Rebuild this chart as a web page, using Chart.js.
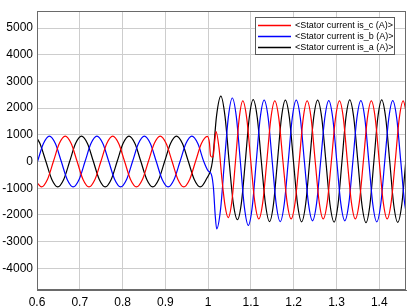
<!DOCTYPE html>
<html><head><meta charset="utf-8">
<script src="https://cdn.jsdelivr.net/npm/chart.js@4.4.1/dist/chart.umd.min.js"></script>
<style>html,body{margin:0;padding:0;background:#fff;}#wrap{width:408px;height:308px;}</style>
</head><body><div id="wrap"><canvas id="c" width="408" height="308"></canvas></div>
<script>
const xTicks=[0.6,0.7,0.8,0.9,1,1.1,1.2,1.3,1.4];
const yTicks=[-4000,-3000,-2000,-1000,0,1000,2000,3000,4000,5000];
const seriesLabels=['<Stator current is_c (A)>','<Stator current is_b (A)>','<Stator current is_a (A)>'];

// is_a (black)
const tA=[0.600,0.6069,0.6208,0.6347,0.6485,0.6624,0.6763,0.6901,0.7040,0.7179,0.7318,0.7456,0.7595,0.7734,0.7873,0.8011,0.8150,0.8289,0.8428,0.8566,0.8705,0.8844,0.8983,0.9121,0.9260,0.9399,0.9538,0.9676,0.9815,0.9954,
1.0100,1.0198,1.0297,1.0394,1.0491,1.0588,1.0685,1.0777,1.0869,1.0961,1.1053,1.1149,1.1244,1.1340,1.1435,1.1528,1.1620,1.1713,1.1805,1.1900,1.1995,1.2090,1.2185,1.2279,1.2373,1.2466,1.2560,1.2656,1.2753,1.2849,1.2945,1.3036,1.3128,1.3219,1.3310,1.3405,1.3500,1.3595,1.3690,1.3782,1.3874,1.3965,1.4057,1.4151,1.4245,1.4338,1.4432,1.4526,1.4620,1.4714];
const iA=[876,672,0,-672,-950,-672,0,672,950,672,0,-672,-950,-672,0,672,950,672,0,-672,-950,-672,0,672,950,672,0,-672,-950,-672,
0,1730,2450,1700,0,-1560,-2180,-1560,0,1640,2320,1640,0,-1590,-2250,-1590,0,1630,2300,1630,0,-1600,-2260,-1600,0,1630,2300,1630,0,-1610,-2270,-1610,0,1630,2310,1630,0,-1620,-2290,-1620,0,1630,2310,1630,0,-1620,-2280,-1620,0,1630];

// is_b (blue)
const tB=[0.600,0.6012,0.6151,0.6290,0.6429,0.6568,0.6706,0.6845,0.6984,0.7123,0.7261,0.7400,0.7539,0.7678,0.7816,0.7955,0.8094,0.8233,0.8371,0.8510,0.8649,0.8788,0.8926,0.9065,0.9204,0.9343,0.9481,0.9620,0.9759,0.9898,
1.0000,1.0075,1.0125,1.0165,1.0200,1.0291,1.0382,1.0474,1.0565,1.0659,1.0753,1.0846,1.0940,1.1032,1.1125,1.1217,1.1310,1.1404,1.1498,1.1591,1.1685,1.1779,1.1873,1.1966,1.2060,1.2155,1.2250,1.2345,1.2440,1.2535,1.2630,1.2725,1.2820,1.2914,1.3008,1.3101,1.3195,1.3289,1.3383,1.3476,1.3570,1.3663,1.3756,1.3849,1.3942,1.4035,1.4128,1.4222,1.4315,1.4409,1.4503,1.4596,1.4690];
const iB=[-60,0,672,950,672,0,-672,-950,-672,0,672,950,672,0,-672,-950,-672,0,672,950,672,0,-672,-950,-672,0,672,950,672,0,
-350,-480,-1000,-2000,-2520,-1780,0,1680,2380,1680,0,-1690,-2390,-1690,0,1630,2300,1630,0,-1590,-2250,-1590,0,1630,2300,1630,0,-1570,-2220,-1570,0,1610,2280,1610,0,-1570,-2220,-1570,0,1610,2280,1610,0,-1600,-2260,-1600,0,1610,2280,1610,0,-1600,-2260];

// is_c (red)
const tC=[0.600,0.6105,0.6244,0.6383,0.6521,0.6660,0.6799,0.6938,0.7076,0.7215,0.7354,0.7493,0.7631,0.7770,0.7909,0.8048,0.8186,0.8325,0.8464,0.8603,0.8741,0.8880,0.9019,0.9158,0.9294,0.9430,0.9568,0.9705,0.9843,0.9980,
1.0030,1.0056,1.0085,1.0117,1.0150,1.0185,1.0255,1.0325,1.0395,1.0468,1.0554,1.0639,1.0725,1.0810,1.0904,1.0998,1.1091,1.1185,1.1278,1.1371,1.1465,1.1558,1.1654,1.1749,1.1845,1.1940,1.2034,1.2128,1.2221,1.2315,1.2409,1.2503,1.2596,1.2690,1.2785,1.2880,1.2975,1.3070,1.3163,1.3255,1.3348,1.3440,1.3534,1.3628,1.3721,1.3815,1.3908,1.4000,1.4093,1.4185,1.4279,1.4373,1.4466,1.4560,1.4654];
const iC=[-790,-950,-672,0,672,950,672,0,-672,-950,-672,0,672,950,672,0,-672,-950,-672,0,672,950,672,0,-672,-950,-672,0,672,940,
700,220,170,180,700,1120,500,-700,-1650,-2100,-1500,0,1600,2270,1600,0,-1520,-2150,-1520,0,1600,2270,1600,0,-1520,-2150,-1520,0,1600,2270,1600,0,-1520,-2150,-1520,0,1600,2270,1600,0,-1520,-2150,-1520,0,1600,2270,1600,0,-1520,-2150,-1520,0,1600,2270,1600];

const FONT='"Liberation Sans", Arial, Helvetica, sans-serif';
function pts(t,v){return t.map((x,i)=>({x:x,y:v[i]}));}

const framePlugin={id:'frame',afterDatasetsDraw(chart){
  const {ctx,chartArea:a}=chart;ctx.save();
  ctx.strokeStyle='#6a6a6a';ctx.lineWidth=1;
  ctx.strokeRect(Math.round(a.left)+0.5,Math.round(a.top)+0.5,Math.round(a.right-a.left)-1,Math.round(a.bottom-a.top)-1);
  ctx.restore();}};

const legendPlugin={id:'boxLegend',afterDraw(chart){
  const ctx=chart.ctx;ctx.save();
  const x0=255.5,y0=17.5,w=139,h=37;
  ctx.fillStyle='#fff';ctx.fillRect(x0,y0,w,h);
  ctx.strokeStyle='#5a5a5a';ctx.lineWidth=1;ctx.strokeRect(x0,y0,w,h);
  ctx.font='9px '+FONT;ctx.textBaseline='middle';ctx.textAlign='left';
  chart.data.datasets.forEach((ds,i)=>{
    const y=25.5+i*11;
    ctx.strokeStyle=ds.borderColor;ctx.lineWidth=1.5;
    ctx.beginPath();ctx.moveTo(258,y);ctx.lineTo(291,y);ctx.stroke();
    ctx.fillStyle='#000';ctx.fillText(ds.label,295,y+0.5);
  });
  ctx.restore();}};

new Chart(document.getElementById('c'),{
  type:'line',
  data:{datasets:[
    {label:seriesLabels[0],data:pts(tC,iC),borderColor:'#ff0000'},
    {label:seriesLabels[1],data:pts(tB,iB),borderColor:'#0000ff'},
    {label:seriesLabels[2],data:pts(tA,iA),borderColor:'#000000'}
  ]},
  options:{
    responsive:false,devicePixelRatio:1,animation:false,events:[],
    parsing:false,
    elements:{point:{radius:0},line:{borderWidth:1.2,cubicInterpolationMode:'monotone',fill:false}},
    layout:{padding:{top:2,right:2,left:0,bottom:0}},
    plugins:{legend:{display:false},tooltip:{enabled:false}},
    scales:{
      x:{type:'linear',min:0.6,max:1.4625,
        afterBuildTicks:s=>{s.ticks=xTicks.map(v=>({value:v}));},
        afterFit:s=>{s.height=17.5;},
        grid:{color:'#cdcdcd',drawTicks:false,lineWidth:1},
        border:{display:true,color:'#6a6a6a'},
        ticks:{padding:5,color:'#000',font:{family:FONT,size:12},maxRotation:0,autoSkip:false,callback:v=>String(v)}},
      y:{type:'linear',min:-4830,max:5630,
        afterBuildTicks:s=>{s.ticks=yTicks.map(v=>({value:v}));},
        afterFit:s=>{s.width=37;},
        grid:{color:'#cdcdcd',drawTicks:false,lineWidth:1},
        border:{display:true,color:'#6a6a6a'},
        ticks:{padding:4,color:'#000',font:{family:FONT,size:12},autoSkip:false,callback:v=>String(v)}}
    }
  },
  plugins:[framePlugin,legendPlugin]
});
</script></body></html>
